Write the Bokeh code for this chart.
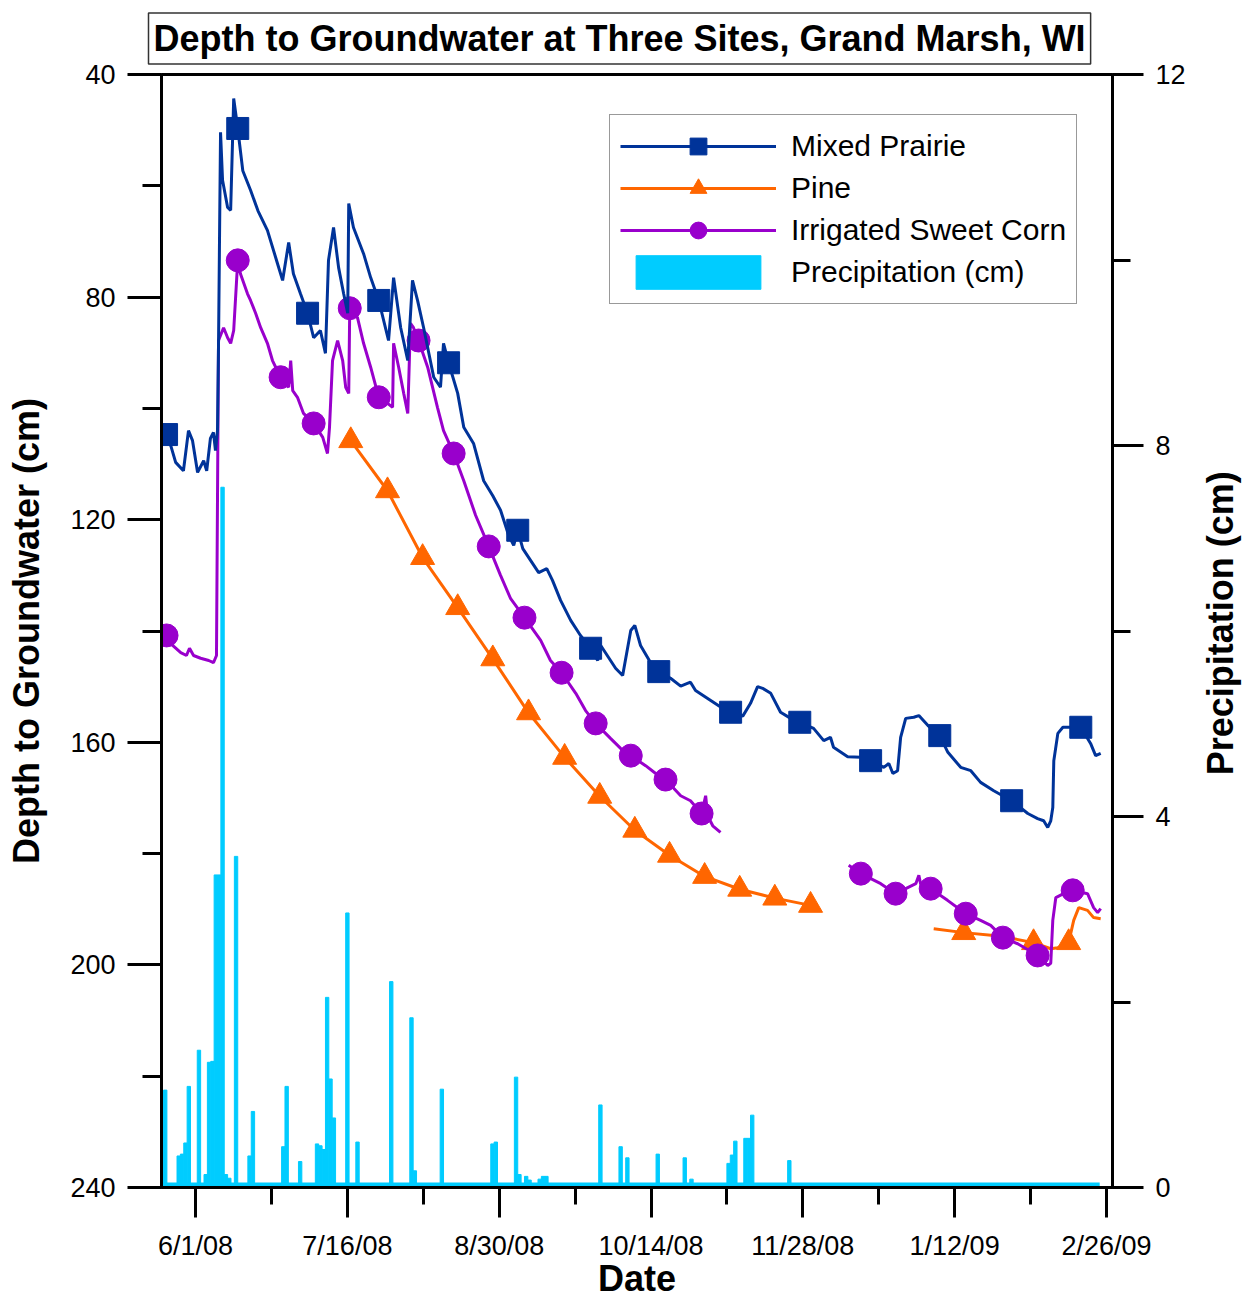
import pandas as pd
from bokeh.plotting import figure
from bokeh.layouts import row
from bokeh.models import Range1d, LinearAxis, FixedTicker, Legend, LegendItem, Title, Label
from bokeh.embed import file_html
from bokeh.resources import INLINE

nan = float("nan")

# ---------------- data ----------------
BASE_DATE = "2008-06-01"          # day 0 of the x axis
date_tick_labels = ["6/1/08", "7/16/08", "8/30/08", "10/14/08", "11/28/08", "1/12/09", "2/26/09"]
x_start_date = "2008-05-21"
x_end_date = "2009-02-27"

# Mixed Prairie (days since 6/1/08, depth to groundwater cm)
mp_day = [-9.6, -8.6, -7.2, -5.9, -3.6, -2.1, -0.9, 0.6, 2.4, 3.3,
          4.4, 5.3, 5.9, 6.5, 6.8, 7.4, 8.0, 9.5, 10.4, 11.3,
          12.5, 14.0, 16.3, 18.5, 21.3, 24.3, 25.8, 27.6, 29.0, 31.1,
          33.2, 35.0, 37.0, 38.5, 39.4, 40.9, 42.4, 43.9, 45.1, 45.4,
          46.8, 49.8, 51.9, 54.3, 57.2, 58.7, 60.8, 62.9, 64.3, 65.8,
          67.6, 70.6, 72.6, 73.5, 75.0, 77.7, 79.5, 82.4, 85.4, 88.1,
          90.4, 92.8, 94.3, 95.5, 97.0, 99.3, 101.7, 104.1, 105.8, 108.2,
          111.2, 114.1, 117.1, 119.2, 120.1, 121.6, 124.5, 126.6, 129.0, 130.2,
          131.9, 134.9, 137.3, 140.8, 143.8, 146.7, 148.2, 152.7, 156.2, 158.6,
          162.2, 164.5, 166.6, 168.1, 170.5, 173.4, 176.4, 179.1, 183.2, 186.2,
          188.2, 189.1, 193.3, 197.2, 200.1, 204.0, 205.5, 206.7, 208.1, 209.0,
          210.5, 212.9, 214.4, 217.1, 220.6, 223.0, 226.8, 229.8, 232.7, 236.6,
          241.9, 246.7, 249.6, 251.4, 252.6, 253.5, 254.1, 254.4, 255.6, 257.1,
          259.4, 262.4, 265.3, 266.8, 268.3]
mp_depth = [104.7, 104.7, 107.0, 109.7, 111.2, 104.0, 105.8, 111.5, 109.4, 111.2,
            105.4, 104.3, 107.6, 104.0, 88.7, 50.4, 59.0, 63.9, 64.4, 44.3,
            49.7, 57.3, 60.8, 64.5, 68.0, 74.0, 77.0, 70.2, 75.8, 79.4,
            82.9, 87.3, 86.0, 90.1, 73.4, 67.5, 74.7, 79.4, 82.9, 63.2,
            67.5, 72.2, 76.5, 80.6, 87.8, 76.5, 85.5, 91.4, 77.0, 80.6,
            85.5, 94.4, 96.2, 88.3, 91.8, 97.3, 103.4, 106.3, 113.0, 115.7,
            118.3, 122.8, 124.6, 121.9, 125.2, 127.3, 129.5, 128.8, 130.9, 134.5,
            138.1, 140.8, 143.1, 145.3, 142.6, 144.0, 146.7, 148.0, 139.9, 139.0,
            142.6, 145.7, 147.3, 148.5, 149.9, 149.2, 150.7, 152.5, 153.9, 154.6,
            155.3, 153.0, 150.0, 150.3, 151.2, 154.6, 155.7, 156.4, 157.5, 159.7,
            159.1, 160.9, 162.6, 162.7, 163.3, 164.5, 163.8, 165.6, 165.1, 159.1,
            155.7, 155.5, 155.2, 157.0, 158.8, 161.8, 164.5, 165.1, 167.2, 168.7,
            170.5, 172.8, 173.7, 174.1, 175.3, 174.1, 171.7, 163.3, 158.4, 157.3,
            157.3, 157.3, 160.2, 162.4, 162.0]
mp_mark_day = [-8.6, 12.5, 33.2, 54.3, 75.0, 95.5, 117.1, 137.3, 158.6, 179.1, 200.1, 220.6, 241.9, 262.4]
mp_mark_depth = [104.7, 49.7, 82.9, 80.6, 91.8, 121.9, 143.1, 147.3, 154.6, 156.4, 163.3, 158.8, 170.5, 157.3]

# Pine
pn_day = [46.0, 56.9, 67.3, 77.7, 88.1, 98.7, 109.4, 119.8, 130.2, 140.5,
          150.9, 161.3, 171.7, 182.3, nan, 218.8, 227.7, 236.6, 242.5, 248.4,
          253.5, 255.6, 258.8, 260.3, 261.8, 264.4, 266.2, 268.3]
pn_depth = [105.8, 114.8, 126.8, 135.8, 145.0, 154.7, 162.7, 169.7, 175.8, 180.3,
            184.1, 186.4, 188.0, 189.3, nan, 193.5, 194.2, 194.7, 195.3, 196.0,
            197.1, 196.9, 196.0, 192.0, 189.7, 190.2, 191.5, 191.7]
pn_mark_day = [46.0, 56.9, 67.3, 77.7, 88.1, 98.7, 109.4, 119.8, 130.2, 140.5,
               150.9, 161.3, 171.7, 182.3, 227.7, 248.4, 258.8]
pn_mark_depth = [105.8, 114.8, 126.8, 135.8, 145.0, 154.7, 162.7, 169.7, 175.8, 180.3,
                 184.1, 186.4, 188.0, 189.3, 194.2, 196.0, 196.0]

# Irrigated Sweet Corn
pc_day = [-9.5, -8.6, -6.8, -4.4, -2.7, -1.8, -0.6, 1.5, 3.9, 5.3,
          6.2, 6.8, 8.3, 9.5, 10.4, 11.3, 12.5, 13.3, 15.4, 16.3,
          17.8, 19.3, 21.3, 22.8, 25.2, 27.6, 28.2, 28.8, 30.2, 32.0,
          35.0, 37.7, 39.1, 39.7, 40.6, 42.1, 43.6, 44.5, 45.4, 45.7,
          48.0, 49.8, 51.9, 54.3, 56.9, 58.4, 58.7, 60.2, 61.7, 62.9,
          63.7, 64.6, 66.1, 68.8, 71.7, 73.5, 76.5, 79.5, 83.0, 86.9,
          90.4, 93.4, 97.5, 102.3, 105.2, 108.5, 112.7, 115.6, 118.6, 123.0,
          126.0, 129.0, 133.4, 136.4, 139.3, 143.8, 146.7, 150.0, 151.2, 151.8,
          153.3, 155.6, nan, 193.6, 197.2, 203.1, 207.5, 211.1, 213.5, 214.4,
          214.9, 217.9, 222.9, 228.3, 232.7, 235.7, 239.3, 243.7, 249.6, 252.6,
          253.5, 254.1, 255.0, 257.3, 260.0, 264.4, 266.2, 267.4, 268.3]
pc_depth = [140.8, 140.8, 142.6, 143.9, 144.4, 143.1, 144.4, 144.9, 145.3, 145.7,
            144.4, 87.8, 85.5, 87.3, 88.3, 86.0, 73.4, 75.8, 79.4, 80.6,
            82.9, 85.5, 88.3, 91.4, 94.4, 96.2, 91.4, 96.8, 98.0, 100.9,
            102.7, 105.2, 108.1, 103.4, 91.4, 87.8, 91.4, 96.2, 97.3, 82.0,
            83.7, 88.3, 92.6, 98.0, 99.1, 99.8, 88.3, 92.6, 97.3, 100.9,
            84.7, 85.5, 87.8, 92.6, 99.8, 104.0, 108.1, 113.0, 119.2, 124.8,
            130.0, 134.2, 137.6, 141.7, 145.3, 147.5, 151.2, 154.3, 156.6, 159.3,
            161.1, 162.4, 164.2, 165.6, 166.7, 169.6, 170.5, 172.8, 169.6, 173.2,
            175.0, 176.2, nan, 182.1, 183.6, 185.4, 187.2, 186.1, 185.4, 183.9,
            185.4, 186.3, 188.4, 190.8, 192.0, 192.9, 195.1, 196.2, 198.3, 200.1,
            199.7, 192.0, 187.9, 187.2, 186.6, 187.2, 189.7, 190.6, 189.9]
pc_mark_day = [-8.6, 12.5, 25.2, 35.0, 45.7, 54.3, 66.1, 76.5, 86.9, 97.5, 108.5,
               118.6, 129.0, 139.3, 150.0, 197.2, 207.5, 217.9, 228.3, 239.3, 249.6, 260.0]
pc_mark_depth = [140.8, 73.4, 94.4, 102.7, 82.0, 98.0, 87.8, 108.1, 124.8, 137.6, 147.5,
                 156.6, 162.4, 166.7, 172.8, 183.6, 187.2, 186.3, 190.8, 195.1, 198.3, 186.6]

# Precipitation (daily, cm)
pr_day = [-9, -5, -4, -3, -2, 1, 3, 4, 5, 6, 7, 8, 9, 10, 12, 16, 17, 26, 27, 31,
          36, 37, 38, 39, 40, 41, 45, 48, 58, 64, 65, 73, 88, 89, 95, 96, 98, 99,
          102, 103, 104, 120, 126, 128, 137, 145, 147, 158, 159, 160, 163, 164, 165, 176]
pr_cm = [1.05, 0.34, 0.36, 0.48, 1.09, 1.48, 0.14, 1.35, 1.36, 3.37, 3.37, 7.55, 0.14, 0.10,
         3.57, 0.34, 0.82, 0.44, 1.09, 0.28, 0.47, 0.45, 0.41, 2.05, 1.17, 0.75, 2.96, 0.49,
         2.22, 1.83, 0.18, 1.06, 0.47, 0.49, 1.19, 0.14, 0.12, 0.08, 0.09, 0.12, 0.12, 0.89,
         0.44, 0.32, 0.36, 0.32, 0.09, 0.26, 0.35, 0.50, 0.53, 0.53, 0.78, 0.29]
pr_record_start = "2008-05-22"
pr_record_end = "2009-02-24"

depth_ticks = [40, 80, 120, 160, 200, 240]
depth_minor = [60, 100, 140, 180, 220]
precip_ticks = [0, 4, 8, 12]
precip_minor = [2, 6, 10]

# ---------------- helpers ----------------
base = pd.Timestamp(BASE_DATE)
def day_of(s, fmt=None):
    return (pd.to_datetime(s, format=fmt) - base).days

tick_days = [day_of(s, "%m/%d/%y") for s in date_tick_labels]
minor_days = [(a + b) / 2 for a, b in zip(tick_days[:-1], tick_days[1:])]

FONT = "Liberation Sans"
NAVY = "#003399"
ORANGE = "#FF6600"
PURPLE = "#9900CC"
CYAN = "#00CCFF"
H = 1302

p = figure(width=1200, height=H,
           output_backend="svg", toolbar_location=None,
           x_range=Range1d(day_of(x_start_date) + 0.9, day_of(x_end_date) + 0.8),
           y_range=Range1d(depth_ticks[-1], depth_ticks[0]),
           min_border_left=161, min_border_right=88, min_border_top=74, min_border_bottom=115)
p.extra_y_ranges = {"precip": Range1d(precip_ticks[0], precip_ticks[-1])}
p.xgrid.visible = False
p.ygrid.visible = False
p.outline_line_color = "black"
p.outline_line_width = 3
p.background_fill_color = "white"
p.border_fill_color = "white"

p.title = Title(text="Depth to Groundwater at Three Sites, Grand Marsh, WI",
                align="left", text_font=FONT, text_font_size="36px",
                text_font_style="bold", text_color="black",
                border_line_color="#333333", border_line_width=1.5,
                background_fill_color="white", padding=5, offset=-13, standoff=21)

# precipitation
pr_bars = p.vbar(x=pr_day, top=pr_cm, bottom=0, width=1.0, y_range_name="precip",
                 fill_color=CYAN, line_color=CYAN, line_width=1)
p.segment(x0=[day_of(pr_record_start)], y0=[0], x1=[day_of(pr_record_end)], y1=[0],
          y_range_name="precip", line_color=CYAN, line_width=10)

# pine
pn_line = p.line(pn_day, pn_depth, line_color=ORANGE, line_width=3)
pn_mk = p.scatter(pn_mark_day, pn_mark_depth, marker="triangle", size=24,
                  fill_color=ORANGE, line_color=ORANGE)
# corn
pc_line = p.line(pc_day, pc_depth, line_color=PURPLE, line_width=3)
pc_mk = p.scatter(pc_mark_day, pc_mark_depth, marker="circle", size=23,
                  fill_color=PURPLE, line_color=PURPLE)
# prairie
mp_line = p.line(mp_day, mp_depth, line_color=NAVY, line_width=3)
mp_mk = p.scatter(mp_mark_day, mp_mark_depth, marker="square", size=22,
                  fill_color=NAVY, line_color=NAVY)

# axes
xax = p.xaxis[0]
yax = p.yaxis[0]
rax = LinearAxis(y_range_name="precip")
p.add_layout(rax, "right")

xax.ticker = FixedTicker(ticks=tick_days, minor_ticks=minor_days)
xax.major_label_overrides = {d: s for d, s in zip(tick_days, date_tick_labels)}
yax.ticker = FixedTicker(ticks=depth_ticks, minor_ticks=depth_minor)
rax.ticker = FixedTicker(ticks=precip_ticks, minor_ticks=precip_minor)

xax.axis_label = "Date"
yax.axis_label = "Depth to Groundwater (cm)"

for ax in (xax, yax, rax):
    ax.axis_line_color = "black"
    ax.axis_line_width = 3
    ax.major_tick_line_color = "black"
    ax.minor_tick_line_color = "black"
    ax.major_tick_line_width = 3
    ax.minor_tick_line_width = 3
    ax.major_tick_in = 0
    ax.minor_tick_in = 0
    ax.major_label_text_font = FONT
    ax.major_label_text_font_size = "27px"
    ax.major_label_text_color = "black"
    ax.axis_label_text_font = FONT
    ax.axis_label_text_font_size = "36px"
    ax.axis_label_text_font_style = "bold"
    ax.axis_label_text_color = "black"

yax.major_tick_out = 34
yax.minor_tick_out = 19
yax.major_label_standoff = 12
yax.axis_label_standoff = 20

xax.major_tick_out = 30
xax.minor_tick_out = 17
xax.major_label_standoff = 13
xax.axis_label_standoff = -6

rax.major_tick_out = 31
rax.minor_tick_out = 18
rax.major_label_standoff = 12

legend = Legend(items=[
    LegendItem(label="Mixed Prairie", renderers=[mp_line, mp_mk]),
    LegendItem(label="Pine", renderers=[pn_line, pn_mk]),
    LegendItem(label="Irrigated Sweet Corn", renderers=[pc_line, pc_mk]),
    LegendItem(label="Precipitation (cm)", renderers=[pr_bars]),
], location=(448, 883), orientation="vertical",
   label_text_font=FONT, label_text_font_size="30px", label_text_color="black",
   glyph_width=156, glyph_height=42, label_height=42, spacing=0,
   padding=10, margin=0, label_standoff=15,
   border_line_color="#333333", border_line_width=1.5,
   background_fill_color="white", background_fill_alpha=1.0)
p.add_layout(legend)

# right-hand axis title, reading bottom-to-top (a narrow strip beside the chart)
strip = figure(width=45, height=H, output_backend="svg", toolbar_location=None,
               x_range=Range1d(0, 1), y_range=Range1d(0, 1),
               x_axis_location=None, y_axis_location=None, min_border=0,
               outline_line_color=None)
strip.grid.visible = False
strip.add_layout(Label(x=0.44, y=(H - 642) / H, text="Precipitation (cm)",
                       angle=90, angle_units="deg",
                       text_align="center", text_baseline="middle",
                       text_font=FONT, text_font_size="36px", text_font_style="bold",
                       text_color="black"))

layout = row(p, strip, spacing=0)
open("out.html", "w").write(file_html(layout, INLINE))
